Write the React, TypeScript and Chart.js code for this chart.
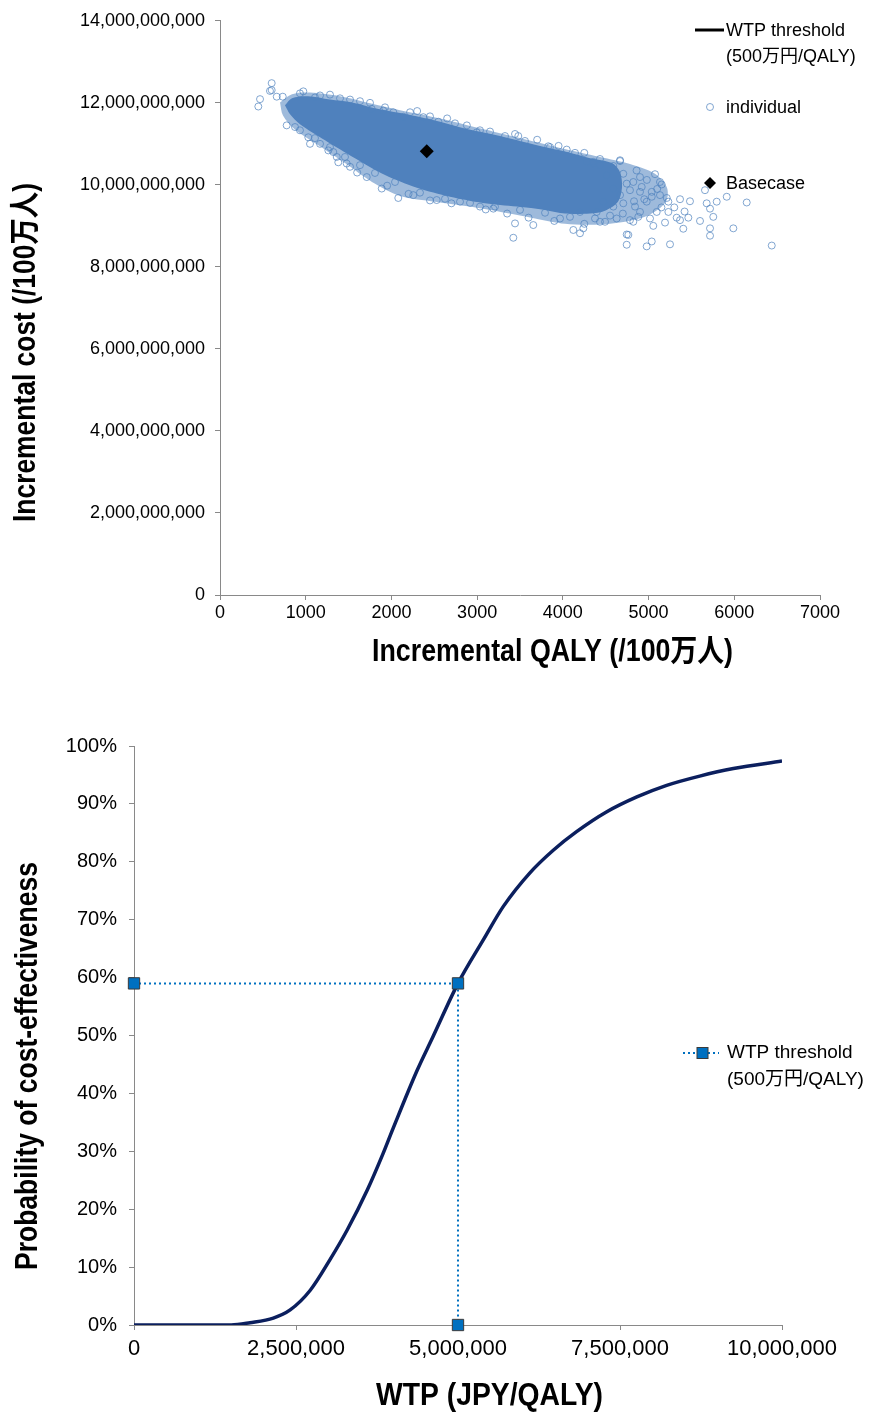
import React, { useEffect, useRef } from 'react';
import { Chart, registerables } from 'chart.js';

Chart.register(...registerables);

const SANS = "'Liberation Sans', 'Noto Sans CJK JP', sans-serif";
const AXIS_GREY = '#898989';
const POINT_BLUE = '#4F81BD';

// ---------- Top chart: cost-effectiveness plane ----------
const qalyTicks = [0, 1000, 2000, 3000, 4000, 5000, 6000, 7000];
const costTicksBillion = [0, 2, 4, 6, 8, 10, 12, 14];

const basecasePoint: [number, number][] = [[2412, 10.82]];

// individual simulation results (incremental QALY, incremental cost in billion JPY)
const individualPoints: [number, number][] = [
  [447, 11.91], [467, 12.09], [583, 12.29], [603, 12.31], [603, 12.48], [662, 12.15], [732, 12.15],
  [972, 12.28], [1108, 12.13], [1517, 12.08], [1770, 11.85], [1905, 11.81], [2022, 11.77], [2139, 11.66],
  [778, 11.45], [875, 11.41], [1030, 11.16], [1167, 11.0], [1264, 10.84], [1362, 10.68], [1478, 10.52],
  [933, 12.23], [1167, 12.18], [1400, 12.11], [1633, 12.04], [1925, 11.89], [2217, 11.77], [2450, 11.67],
  [2742, 11.5], [3033, 11.33], [3325, 11.19], [3558, 11.07], [3850, 10.92], [4142, 10.78], [4433, 10.63],
  [2372, 11.65], [2547, 11.54], [2995, 11.28], [3442, 11.24], [3480, 11.19], [3830, 10.94], [4045, 10.86],
  [4355, 10.56], [4667, 10.6], [4900, 10.19],
  [1283, 12.2], [1750, 12.0], [2300, 11.8], [2650, 11.62], [2880, 11.45], [3150, 11.3], [3700, 11.1],
  [3950, 10.95], [4250, 10.78],
  [933, 11.33], [1108, 11.14], [1283, 10.92], [1458, 10.68], [1633, 10.48], [1808, 10.29], [2042, 10.07],
  [2333, 9.81], [2625, 9.66], [2917, 9.56], [3208, 9.47], [3500, 9.39], [3792, 9.32], [4083, 9.22], [4375, 9.18],
  [1050, 11.0], [1380, 10.55], [1600, 10.3], [1950, 9.98], [2200, 9.78], [2450, 9.62], [2700, 9.55],
  [3100, 9.4], [3350, 9.3], [3600, 9.2], [3900, 9.12], [4250, 9.05],
  [1322, 10.8], [1517, 10.44], [1712, 10.19], [1887, 9.91], [2080, 9.68], [2255, 9.75], [2528, 9.63],
  [2800, 9.59], [3033, 9.47], [3189, 9.42], [3422, 8.71], [3442, 9.06], [3655, 9.02], [3967, 9.18],
  [4122, 8.9], [4200, 8.82], [4433, 9.1], [4745, 8.79], [4745, 8.54], [4978, 8.5], [4628, 9.18], [4822, 9.1],
  [4667, 10.58], [4589, 10.46], [4705, 10.27], [5075, 10.26], [5133, 10.07], [5153, 10.01], [4822, 10.07],
  [4920, 9.95], [5037, 9.83], [5133, 9.75], [5212, 9.68], [5367, 9.65], [5483, 9.6], [5658, 9.87],
  [5678, 9.55], [5795, 9.59], [5912, 9.71], [6145, 9.57], [5717, 9.42], [5755, 9.22], [5600, 9.12],
  [5464, 9.2], [5328, 9.2], [5367, 9.14], [5192, 9.08], [5055, 9.0], [5405, 8.93], [5717, 8.94],
  [5717, 8.76], [5989, 8.94], [4764, 8.78], [5037, 8.62], [5250, 8.55], [6437, 8.52], [5231, 9.59],
  [5231, 9.34], [5095, 9.34], [5017, 9.18], [4900, 9.34], [4783, 9.14], [4492, 9.1], [4239, 8.94],
  [4200, 9.34], [4395, 9.34], [4472, 9.59], [4589, 9.47], [4705, 9.55], [4842, 9.47], [4978, 9.59],
  [5037, 9.71], [4900, 9.83], [4783, 9.87], [4667, 9.75], [4589, 9.91], [4745, 10.03], [4433, 10.48],
  [4355, 10.52], [4278, 10.56], [4512, 10.23],
  [4860, 10.35], [4980, 10.12], [5100, 9.9], [4950, 9.65], [4830, 9.6], [5150, 9.45], [4700, 9.3],
  [4550, 9.25], [4880, 9.22], [5300, 9.45], [5420, 9.35],
];

// outline of the area where the individual circles overlap into a solid mass
const denseCoreOutline: [number, number][] = [
  [758, 11.94], [840, 12.11], [1027, 12.16], [1283, 12.08], [1540, 12.01], [1808, 11.87], [2100, 11.75],
  [2485, 11.58], [2882, 11.36], [3267, 11.19], [3652, 10.99], [4048, 10.8], [4317, 10.65], [4573, 10.53],
  [4667, 10.31], [4690, 9.95], [4643, 9.59], [4492, 9.37], [4317, 9.3], [4025, 9.3], [3792, 9.39],
  [3465, 9.47], [3068, 9.56], [2683, 9.71], [2298, 9.93], [1925, 10.24], [1575, 10.65], [1225, 11.09],
  [933, 11.48], [817, 11.72], [758, 11.94],
];

// outline of the looser, partly overlapping fringe around the solid mass
const denseHaloOutline: [number, number][] = [
  [700, 12.01], [840, 12.21], [1050, 12.25], [1400, 12.16], [1750, 11.99], [2100, 11.82], [2567, 11.62],
  [3033, 11.38], [3500, 11.14], [3967, 10.9], [4433, 10.68], [4783, 10.51], [5075, 10.27], [5215, 9.93],
  [5203, 9.59], [5017, 9.28], [4725, 9.1], [4375, 9.03], [4025, 9.05], [3675, 9.18], [3325, 9.32],
  [2917, 9.47], [2508, 9.59], [2100, 9.73], [1773, 10.07], [1458, 10.53], [1143, 10.97], [875, 11.35],
  [735, 11.69], [700, 12.01],
];

// ---------- Bottom chart: cost-effectiveness acceptability curve ----------
const wtpTicks = [0, 2500000, 5000000, 7500000, 10000000];
const probTicks = [0, 10, 20, 30, 40, 50, 60, 70, 80, 90, 100];

const wtpYen = [
  0, 500000, 1000000, 1500000, 1790000, 2150000, 2410000, 2720000, 3020000, 3290000, 3600000, 3840000,
  4000000, 4370000, 4610000, 5000000, 5390000, 5700000, 6110000, 6470000, 6830000, 7290000, 7760000,
  8220000, 8730000, 9250000, 10000000,
];
const probCostEffective = [
  0, 0, 0, 0, 0.4, 1.2, 2.6, 6.0, 11.2, 16.4, 23.3, 29.5, 34.0, 44.0, 49.7, 59.0, 66.5, 72.3, 78.1, 82.0,
  85.2, 88.6, 91.2, 93.2, 94.8, 96.1, 97.4,
];

const thresholdWtp = [0, 5000000, 5000000];
const thresholdProb = [59, 59, 0];

const toXY = (pts: [number, number][]) => pts.map(([x, y]) => ({ x, y }));
const zipXY = (xs: number[], ys: number[]) => xs.map((x, i) => ({ x, y: ys[i] }));

function axisBase(ticksArr: number[], fontSize: number, family: string, padding: number, fmt: (v: number) => string) {
  return {
    type: 'linear' as const,
    min: ticksArr[0],
    max: ticksArr[ticksArr.length - 1],
    afterBuildTicks: (axis: any) => {
      axis.ticks = ticksArr.map((v) => ({ value: v }));
    },
    grid: { display: true, drawOnChartArea: false, drawTicks: true, tickLength: 5, color: AXIS_GREY, lineWidth: 1 },
    border: { display: true, color: AXIS_GREY, width: 1 },
    ticks: {
      autoSkip: false,
      maxRotation: 0,
      minRotation: 0,
      padding,
      color: '#000',
      font: { family, size: fontSize },
      callback: (v: any) => fmt(Number(v)),
    },
  };
}

// draws a (condensed) title so that it spans the given width, centred on (cx, cy)
function drawFitted(ctx: CanvasRenderingContext2D, text: string, cx: number, cy: number, width: number, rotate: boolean) {
  const w = ctx.measureText(text).width;
  ctx.save();
  ctx.translate(cx, cy);
  if (rotate) ctx.rotate(-Math.PI / 2);
  ctx.scale(width / w, 1);
  ctx.textAlign = 'center';
  ctx.textBaseline = 'middle';
  ctx.fillText(text, 0, 0);
  ctx.restore();
}

const topDecor = {
  id: 'topDecor',
  afterDraw(chart: any) {
    const ctx: CanvasRenderingContext2D = chart.ctx;
    ctx.save();
    ctx.fillStyle = '#000';
    ctx.font = `bold 31px ${SANS}`;
    drawFitted(ctx, 'Incremental QALY (/100万人)', 552.5, 652, 361, false);
    drawFitted(ctx, 'Incremental cost (/100万人)', 26, 352.5, 339, true);

    // legend
    ctx.font = `18px ${SANS}`;
    ctx.textAlign = 'left';
    ctx.textBaseline = 'middle';
    ctx.strokeStyle = '#000';
    ctx.lineWidth = 3;
    ctx.beginPath();
    ctx.moveTo(695, 30);
    ctx.lineTo(724, 30);
    ctx.stroke();
    ctx.fillText('WTP threshold', 726, 31);
    ctx.fillText('(500万円/QALY)', 726, 57);

    ctx.strokeStyle = 'rgba(79,129,189,0.7)';
    ctx.lineWidth = 1;
    ctx.beginPath();
    ctx.arc(710, 107, 3.5, 0, Math.PI * 2);
    ctx.stroke();
    ctx.fillText('individual', 726, 108);

    ctx.fillStyle = '#000';
    ctx.beginPath();
    ctx.moveTo(710, 177);
    ctx.lineTo(716, 183);
    ctx.lineTo(710, 189);
    ctx.lineTo(704, 183);
    ctx.closePath();
    ctx.fill();
    ctx.fillText('Basecase', 726, 184);
    ctx.restore();
  },
};

const bottomDecor = {
  id: 'bottomDecor',
  afterDraw(chart: any) {
    const ctx: CanvasRenderingContext2D = chart.ctx;
    ctx.save();
    ctx.fillStyle = '#000';
    ctx.font = `bold 32px ${SANS}`;
    drawFitted(ctx, 'WTP (JPY/QALY)', 489.5, 696, 227, false);
    drawFitted(ctx, 'Probability of cost-effectiveness', 28, 366, 408, true);

    // legend
    ctx.strokeStyle = '#0070C0';
    ctx.lineWidth = 2;
    ctx.setLineDash([2, 3]);
    ctx.beginPath();
    ctx.moveTo(683, 353);
    ctx.lineTo(719, 353);
    ctx.stroke();
    ctx.setLineDash([]);
    ctx.fillStyle = '#0070C0';
    ctx.fillRect(697, 347.5, 11, 11);
    ctx.strokeStyle = '#3A3A3A';
    ctx.lineWidth = 1;
    ctx.strokeRect(697, 347.5, 11, 11);

    ctx.fillStyle = '#000';
    ctx.font = `19px ${SANS}`;
    ctx.textAlign = 'left';
    ctx.textBaseline = 'middle';
    ctx.fillText('WTP threshold', 727, 353);
    ctx.fillText('(500万円/QALY)', 727, 380);
    ctx.restore();
  },
};

function topConfig(): any {
  return {
    type: 'scatter',
    data: {
      datasets: [
        {
          label: 'Basecase',
          data: toXY(basecasePoint),
          order: 0,
          pointStyle: 'rectRot',
          pointRadius: 7,
          pointBackgroundColor: '#000',
          pointBorderColor: '#000',
          pointBorderWidth: 0,
        },
        {
          label: 'individual',
          data: toXY(individualPoints),
          order: 1,
          pointStyle: 'circle',
          pointRadius: 3.5,
          pointBackgroundColor: 'rgba(255,255,255,0)',
          pointBorderColor: 'rgba(79,129,189,0.7)',
          pointBorderWidth: 1,
        },
        {
          label: 'dense core',
          type: 'line',
          data: toXY(denseCoreOutline),
          order: 2,
          showLine: true,
          fill: 'shape',
          tension: 0.3,
          borderWidth: 0,
          borderColor: 'rgba(0,0,0,0)',
          backgroundColor: POINT_BLUE,
          pointRadius: 0,
        },
        {
          label: 'dense fringe',
          type: 'line',
          data: toXY(denseHaloOutline),
          order: 3,
          showLine: true,
          fill: 'shape',
          tension: 0.3,
          borderWidth: 0,
          borderColor: 'rgba(0,0,0,0)',
          backgroundColor: 'rgba(79,129,189,0.55)',
          pointRadius: 0,
        },
      ],
    },
    options: {
      animation: false,
      responsive: false,
      events: [],
      layout: { padding: { top: 18, right: 55, left: 0, bottom: 0 } },
      plugins: { legend: { display: false }, tooltip: { enabled: false } },
      scales: {
        x: { ...axisBase(qalyTicks, 18, SANS, 2, (v) => String(v)), afterFit: (s: any) => { s.height = 105; } },
        y: {
          ...axisBase(costTicksBillion, 18, SANS, 10, (v) => (v * 1e9).toLocaleString('en-US')),
          afterFit: (s: any) => { s.width = 220; },
        },
      },
    },
    plugins: [topDecor],
  };
}

function bottomConfig(): any {
  return {
    type: 'scatter',
    data: {
      datasets: [
        {
          label: 'WTP threshold (500万円/QALY)',
          data: zipXY(thresholdWtp, thresholdProb),
          order: 0,
          showLine: true,
          clip: false,
          tension: 0,
          borderColor: '#0070C0',
          borderWidth: 2,
          borderDash: [2, 3],
          pointStyle: 'rect',
          pointRadius: 8,
          pointBackgroundColor: '#0070C0',
          pointBorderColor: '#3A3A3A',
          pointBorderWidth: 1,
        },
        {
          label: 'CEAC',
          type: 'line',
          data: zipXY(wtpYen, probCostEffective),
          order: 1,
          showLine: true,
          fill: false,
          borderColor: '#0B1F5E',
          borderWidth: 3.5,
          tension: 0.4,
          cubicInterpolationMode: 'monotone',
          pointRadius: 0,
        },
      ],
    },
    options: {
      animation: false,
      responsive: false,
      events: [],
      layout: { padding: { top: 46, right: 93, left: 0, bottom: 0 } },
      plugins: { legend: { display: false }, tooltip: { enabled: false } },
      scales: {
        x: {
          ...axisBase(wtpTicks, 22, SANS, 6, (v) => v.toLocaleString('en-US')),
          afterFit: (s: any) => { s.height = 90; },
        },
        y: {
          ...axisBase(probTicks, 20, SANS, 12, (v) => `${v}%`),
          afterFit: (s: any) => { s.width = 134; },
        },
      },
    },
    plugins: [bottomDecor],
  };
}

export default function App() {
  const topRef = useRef<HTMLCanvasElement | null>(null);
  const bottomRef = useRef<HTMLCanvasElement | null>(null);

  useEffect(() => {
    const c1 = new Chart(topRef.current as HTMLCanvasElement, topConfig());
    const c2 = new Chart(bottomRef.current as HTMLCanvasElement, bottomConfig());
    return () => {
      c1.destroy();
      c2.destroy();
    };
  }, []);

  return (
    <div style={{ position: 'absolute', left: 0, top: 0, width: 875, height: 1415, background: '#fff' }}>
      <canvas ref={topRef} width={875} height={700} style={{ display: 'block', width: 875, height: 700 }} />
      <canvas ref={bottomRef} width={875} height={715} style={{ display: 'block', width: 875, height: 715 }} />
    </div>
  );
}
